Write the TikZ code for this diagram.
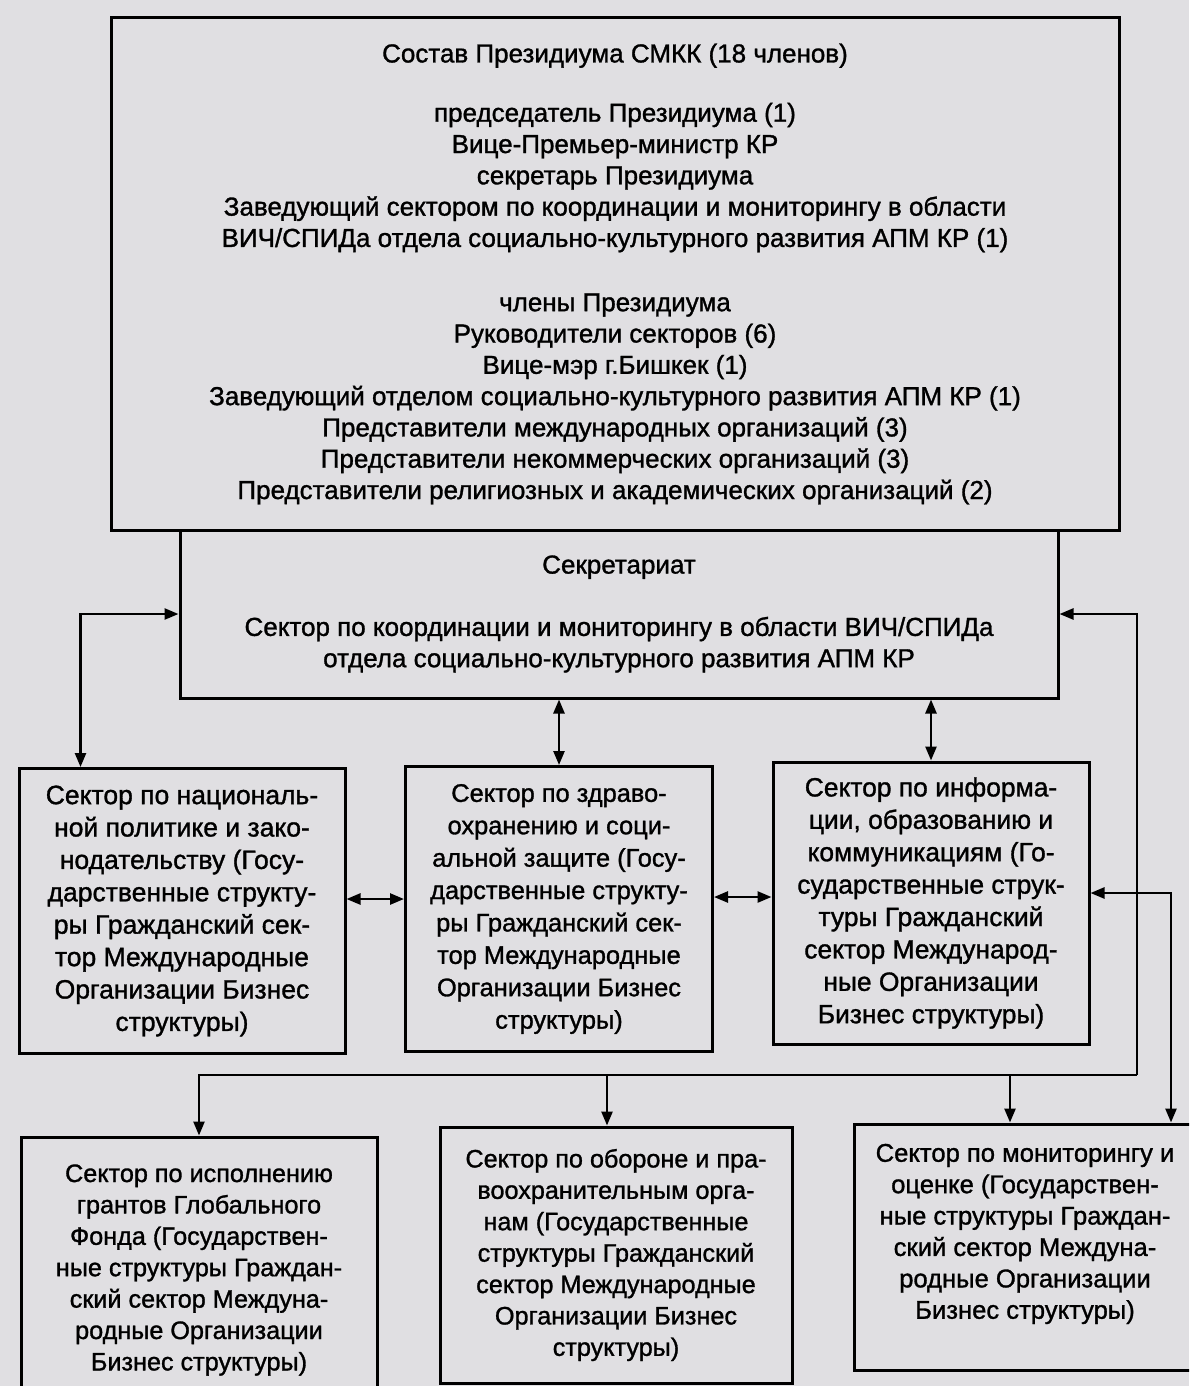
\documentclass[tikz,border=0pt]{standalone}
\usepackage{fontspec}
\setmainfont{Liberation Sans}[FakeBold=1.2]
\usetikzlibrary{arrows.meta}
\definecolor{paper}{RGB}{224,223,226}
\begin{document}
\begin{tikzpicture}[x=1pt,y=-1pt,
    box/.style={draw=black, line width=3pt, align=center, inner sep=0pt,
      font=\fontsize{26}{31.3}\selectfont},
    sector/.style={box, font=\fontsize{#1}{32.4}\selectfont},
    lower/.style={box, font=\fontsize{#1}{31.4}\selectfont},
    link/.style={line width=2.5pt},
    both/.style={link, {Triangle[length=14pt,width=11pt]}-{Triangle[length=14pt,width=11pt]}},
    into/.style={link, -{Triangle[length=14pt,width=11pt]}}]
  \useasboundingbox (0,0) rectangle (1189,1386);
  \fill[paper] (0,0) rectangle (1189,1386);
  \clip (0,0) rectangle (1189,1386);

  % presidium and secretariat
  \node[box, minimum width=878pt, minimum height=168pt] (secr) at (619,614)
    {Секретариат\\[31pt]
     Сектор по координации и мониторингу в области ВИЧ/СПИДа\\
     отдела социально-культурного развития АПМ КР};
  \node[box, minimum width=1008pt, minimum height=512pt] (presid) at (615,274)
    {Состав Президиума СМКК (18 членов)\\[28pt]
     председатель Президиума (1)\\
     Вице-Премьер-министр КР\\
     секретарь Президиума\\
     Заведующий сектором по координации и мониторингу в области\\
     ВИЧ/СПИДа отдела социально-культурного развития АПМ КР (1)\\[33pt]
     члены Президиума\\
     Руководители секторов (6)\\
     Вице-мэр г.Бишкек (1)\\
     Заведующий отделом социально-культурного развития АПМ КР (1)\\
     Представители международных организаций (3)\\
     Представители некоммерческих организаций (3)\\
     Представители религиозных и академических организаций (2)};

  % second row
  \node[sector=26.5, minimum width=326pt, minimum height=285pt] (nat) at (182,911)
    {Сектор по националь-\\ной политике и зако-\\нодательству (Госу-\\дарственные структу-\\ры Гражданский сек-\\тор Международные\\Организации Бизнес\\структуры)};
  \node[sector=25.4, minimum width=307pt, minimum height=285pt] (health) at (559,909)
    {Сектор по здраво-\\охранению и соци-\\альной защите (Госу-\\дарственные структу-\\ры Гражданский сек-\\тор Международные\\Организации Бизнес\\структуры)};
  \node[sector=26.4, minimum width=316pt, minimum height=282pt] (info) at (931,903)
    {Сектор по информа-\\ции, образованию и\\коммуникациям (Го-\\сударственные струк-\\туры Гражданский\\сектор Международ-\\ные Организации\\Бизнес структуры)};

  % third row
  \node[lower=25.2, minimum width=356pt, minimum height=266pt] (grant) at (199,1270)
    {Сектор по исполнению\\грантов Глобального\\Фонда (Государствен-\\ные структуры Граждан-\\ский сектор Междуна-\\родные Организации\\Бизнес структуры)};
  \node[lower=25.2, minimum width=352pt, minimum height=256pt] (defence) at (616,1255)
    {Сектор по обороне и пра-\\воохранительным орга-\\нам (Государственные\\структуры Гражданский\\сектор Международные\\Организации Бизнес\\структуры)};
  \node[lower=25.6, minimum width=342pt, minimum height=246pt] (monit) at (1025,1247)
    {Сектор по мониторингу и\\оценке (Государствен-\\ные структуры Граждан-\\ский сектор Междуна-\\родные Организации\\Бизнес структуры)\\ \mbox{}};

  % connectors
  \draw[both] (secr.west) -| ([xshift=63pt]nat.north west);
  \draw[both] (health.north |- secr.south) -- (health.north);
  \draw[both] (info.north |- secr.south) -- (info.north);

  \coordinate (h1) at ([yshift=12pt]nat.east);
  \coordinate (h2) at ([yshift=12pt]health.east);
  \coordinate (h3) at ([yshift=10pt]info.east);
  \draw[both] (h1) -- (h1 -| health.west);
  \draw[both] (h2) -- (h2 -| info.west);

  \coordinate (bus) at (1137,1075);
  \coordinate (d2) at ([xshift=-9pt]defence.north);
  \coordinate (d3) at ([xshift=-15pt]monit.north);
  \coordinate (d4) at ([xshift=146pt]monit.north);
  \draw[into] (bus) |- (secr.east);
  \draw[into] (bus) -| (grant.north);
  \draw[into] (bus -| d2) -- (d2);
  \draw[into] (bus -| d3) -- (d3);
  \draw[both] (h3) -| (d4);
\end{tikzpicture}
\end{document}
